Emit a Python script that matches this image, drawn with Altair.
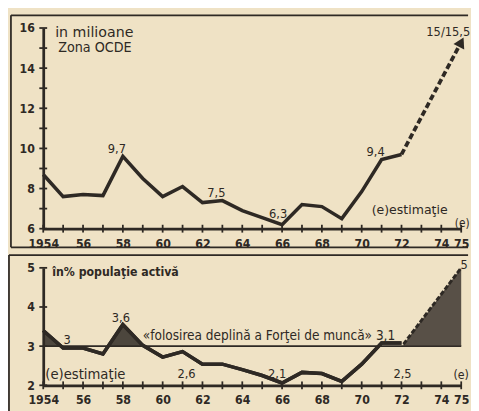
import altair as alt
import pandas as pd

# ---------------- data ----------------
years = list(range(1954, 1973))
unemployed_mil = [8.7, 7.6, 7.7, 7.65, 9.6, 8.5, 7.6, 8.1, 7.3, 7.4, 6.9, 6.55,
                  6.2, 7.2, 7.1, 6.5, 7.85, 9.45, 9.7]
proj_years = [1972, 1975]
proj_mil = [9.7, 15.3]

pct_active = [3.4, 2.95, 2.95, 2.8, 3.55, 3.02, 2.72, 2.86, 2.54, 2.54, 2.4, 2.25,
              2.06, 2.33, 2.3, 2.1, 2.54, 3.08, 3.08]
full_employment = 3.0
shade_a_x = [1954, 1954.9]
shade_a_y = [3.4, 3.0]
shade_b_x = [1957.3, 1958, 1959]
shade_b_y = [3.0, 3.55, 3.02]
proj_pct_x = [1972.1, 1975]
proj_pct_y = [3.05, 5.0]

top_notes_x = [1957.7, 1962.7, 1965.8, 1970.7, 1974.35]
top_notes_y = [9.95, 7.76, 6.73, 9.8, 15.8]
top_notes_t = ["9,7", "7,5", "6,3", "9,4", "15/15,5"]

bot_notes_x = [1955.2, 1957.9, 1961.2, 1965.75, 1972.05, 1975.15]
bot_notes_y = [3.16, 3.71, 2.28, 2.28, 2.28, 5.08]
bot_notes_t = ["3", "3,6", "2,6", "2,1", "2,5", "5"]

year_ticks = list(range(1954, 1976))
top_ticks = list(range(6, 17))
bot_ticks = [2, 3, 4, 5]

# ---------------- style ----------------
FONT = "DejaVu Sans Condensed"
FONT_W = "DejaVu Sans"
INK = "#2e2924"
PAPER = "#efe2c5"
W, H1, H2 = 427, 205, 120

xscale = alt.Scale(domain=[1954, 1975], nice=False, zero=False)
x_label_expr = ("datum.value == 1954 ? '1954' : (datum.value % 2 == 0 || datum.value == 1975)"
                " ? substring(toString(datum.value), 2) : ''")
x_axis = alt.Axis(values=year_ticks, labelExpr=x_label_expr, format="d", title=None,
                  labelOverlap=False, labelFlush=False, ticks=False, labelPadding=9)

y1 = alt.Scale(domain=[6, 16], nice=False, zero=False)
y1_axis = alt.Axis(values=top_ticks, title=None, ticks=False, labelPadding=9,
                   labelOverlap=False,
                   labelExpr="datum.value % 2 == 0 ? toString(datum.value) : ''")
y2 = alt.Scale(domain=[2, 5], nice=False, zero=False)
y2_axis = alt.Axis(values=bot_ticks, title=None, ticks=False, labelPadding=9,
                   labelOverlap=False)


def X(field):
    return alt.X(f"{field}:Q", scale=xscale, axis=x_axis)


def Y(field, panel):
    if panel == 1:
        return alt.Y(f"{field}:Q", scale=y1, axis=y1_axis)
    return alt.Y(f"{field}:Q", scale=y2, axis=y2_axis)


one = pd.DataFrame({"a": [0]})


def frame_rule(x, x2, y, y2_):
    return alt.Chart(one).mark_rule(color=INK, strokeWidth=1.8).encode(
        x=alt.value(x), x2=alt.value(x2), y=alt.value(y), y2=alt.value(y2_))


def xticks_layer(h):
    df = pd.DataFrame({"v": year_ticks})
    return alt.Chart(df).mark_rule(color=INK, strokeWidth=1.8).encode(
        x=X("v"), y=alt.value(h - 4), y2=alt.value(h + 4))


def yticks_layer(vals, panel):
    df = pd.DataFrame({"v": vals})
    return alt.Chart(df).mark_rule(color=INK, strokeWidth=1.8).encode(
        y=Y("v", panel), x=alt.value(-4), x2=alt.value(4))


def text_layer(xs, ys, ts, panel, align="center", size=12, font=FONT, weight="normal"):
    df = pd.DataFrame({"x": xs, "y": ys, "t": ts})
    return alt.Chart(df).mark_text(font=font, fontSize=size, color=INK, align=align,
                                   baseline="middle", fontWeight=weight).encode(
        x=X("x"), y=Y("y", panel), text="t:N")


# ---------------- top panel ----------------
top_df = pd.DataFrame({"x": years, "y": unemployed_mil})
top_line = alt.Chart(top_df).mark_line(color=INK, strokeWidth=3.6).encode(
    x=X("x"), y=Y("y", 1))
proj_df = pd.DataFrame({"x": proj_years, "y": proj_mil})
proj_line = alt.Chart(proj_df).mark_line(color=INK, strokeWidth=3.8,
                                          strokeDash=[6, 3]).encode(
    x=X("x"), y=Y("y", 1))
arrow = alt.Chart(proj_df.tail(1)).mark_point(shape="triangle-up", filled=True, color=INK,
                                              opacity=1, size=150, angle=27).encode(
    x=X("x"), y=Y("y", 1))

top = alt.layer(
    top_line,
    frame_rule(-33, 434, -13, -13),
    frame_rule(-33, -33, -13, 224),
    frame_rule(-33, 434, 224, 224),
    xticks_layer(H1),
    yticks_layer(top_ticks, 1),
    proj_line, arrow,
    text_layer(top_notes_x, top_notes_y, top_notes_t, 1, size=13),
    text_layer([1954.6], [15.76], ["in milioane"], 1, align="left", size=14.5, font=FONT_W),
    text_layer([1954.75], [15.02], ["Zona OCDE"], 1, align="left", size=14.5),
    text_layer([1970.5], [6.92], ["(e)estimaţie"], 1, align="left", size=12.8, font=FONT_W),
    text_layer([1975.05], [6.3], ["(e)"], 1, size=12),
).properties(width=W, height=H1)

# ---------------- bottom panel ----------------
bot_df = pd.DataFrame({"x": years, "y": pct_active})
bot_line = alt.Chart(bot_df).mark_line(color=INK, strokeWidth=3.6).encode(
    x=X("x"), y=Y("y", 2))

ref_df = pd.DataFrame({"x": [1954], "x2": [1975], "y": [full_employment]})
ref_rule = alt.Chart(ref_df).mark_rule(color=INK, strokeWidth=1.6).encode(
    x=X("x"), x2="x2:Q", y=Y("y", 2))


def shade(xs, ys, color="#2f2a25", opacity=0.85):
    df = pd.DataFrame({"x": xs, "y": ys, "b": [full_employment] * len(xs)})
    return alt.Chart(df).mark_area(color=color, opacity=opacity).encode(
        x=X("x"), y=Y("y", 2), y2="b:Q")


pp_df = pd.DataFrame({"x": proj_pct_x, "y": proj_pct_y})
pp_edge = alt.Chart(pp_df).mark_line(color=INK, strokeWidth=3, strokeDash=[5, 2]).encode(
    x=X("x"), y=Y("y", 2))

bottom = alt.layer(
    bot_line,
    frame_rule(-35, 434, -13, -13),
    frame_rule(-35, -35, -13, 150),
    xticks_layer(H2),
    yticks_layer(bot_ticks, 2),
    ref_rule,
    shade(shade_a_x, shade_a_y),
    shade(shade_b_x, shade_b_y),
    shade(proj_pct_x, proj_pct_y, color="#3d3630", opacity=0.85),
    pp_edge,
    bot_line,
    text_layer(bot_notes_x, bot_notes_y, bot_notes_t, 2, size=13),
    text_layer([1954.45], [4.88], ["în% populaţie activă"], 2, align="left", size=12.5,
               weight="bold"),
    text_layer([1959.0], [3.26], ["«folosirea deplină a Forţei de muncă» 3,1"], 2,
               align="left", size=13.8),
    text_layer([1954.1], [2.27], ["(e)estimaţie"], 2, align="left", size=13.5, font=FONT_W),
    text_layer([1975.0], [2.26], ["(e)"], 2, size=12.5),
).properties(width=W, height=H2)

chart = alt.vconcat(top, bottom, spacing=40, bounds="flush").properties(
    padding={"left": 0, "top": 2, "right": 0, "bottom": 0}
).configure(background=PAPER).configure_view(stroke=None).configure_axis(
    domainColor=INK, domainWidth=2.8, labelColor=INK, labelFont=FONT,
    labelFontSize=12.5, labelFontWeight="bold", grid=False
)

chart.save("out.html", embed_options={"renderer": "svg", "actions": False})
